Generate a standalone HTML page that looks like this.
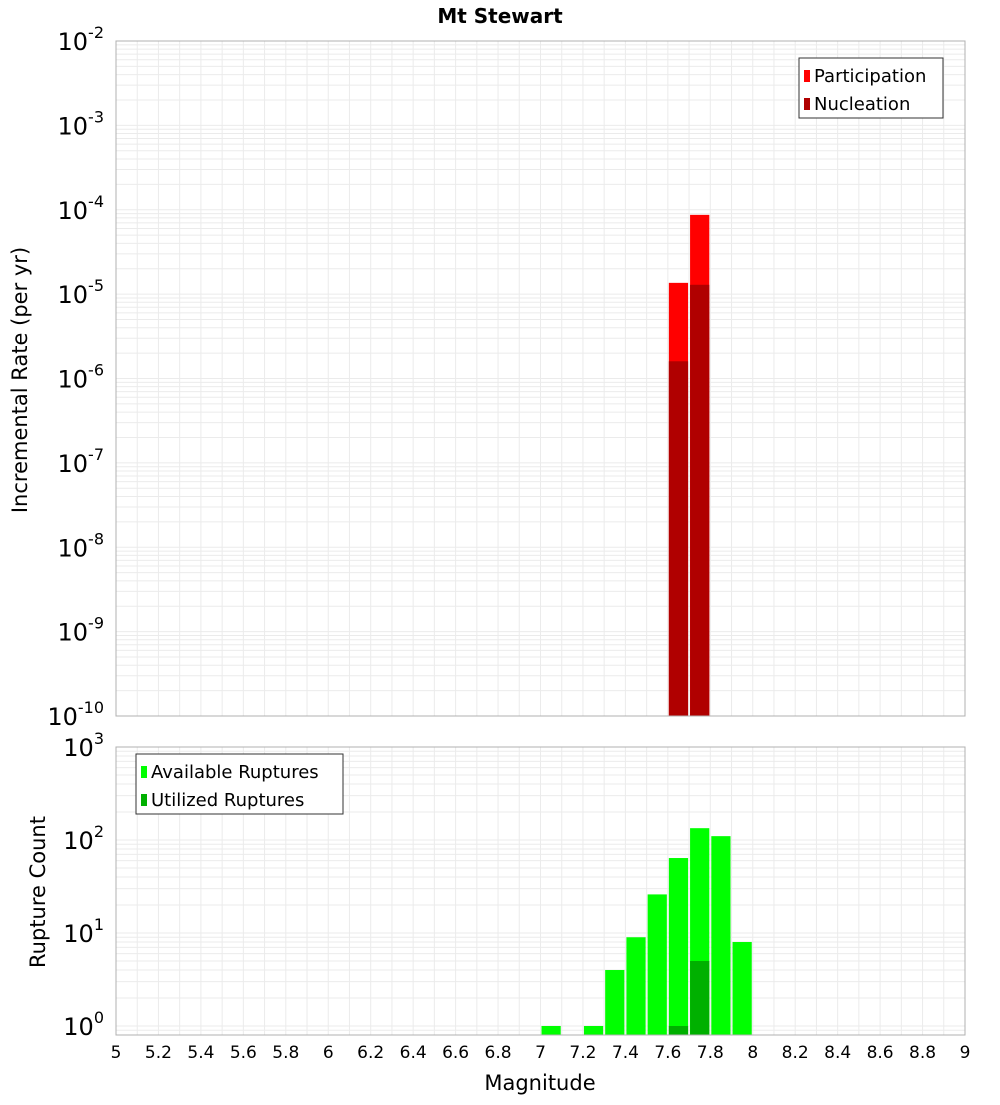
<!DOCTYPE html>
<html><head><meta charset="utf-8"><style>
body{margin:0;background:#fff;font-family:"Liberation Sans","DejaVu Sans",sans-serif}
svg text{font-family:"DejaVu Sans","Liberation Sans",sans-serif}
</style></head><body>
<svg id="c" width="1000" height="1100" xmlns="http://www.w3.org/2000/svg">
<text x="500" y="23" text-anchor="middle" font-size="20" font-weight="bold">Mt Stewart</text>
<text transform="translate(27,380) rotate(-90)" text-anchor="middle" font-size="21">Incremental Rate (per yr)</text>
<text transform="translate(45,892) rotate(-90)" text-anchor="middle" font-size="21">Rupture Count</text>
<text x="540" y="1090" text-anchor="middle" font-size="21">Magnitude</text>
<g id="topPlot"></g><g id="botPlot"></g><g id="xTickGroup"></g>
</svg>
<script>
const mags = [7.05,7.25,7.35,7.45,7.55,7.65,7.75,7.85,7.95];
const available = [1,1,4,9,26,64,134,110,8];
const utilizedMags = [7.65,7.75];
const utilized = [1,5];
const rateMags = [7.65,7.75];
const participation = [1.36e-5,8.7e-5];
const nucleation = [1.6e-6,1.29e-5];
const xTicks = [5,5.2,5.4,5.6,5.8,6,6.2,6.4,6.6,6.8,7,7.2,7.4,7.6,7.8,8,8.2,8.4,8.6,8.8,9];
const topExps = [-10,-9,-8,-7,-6,-5,-4,-3,-2];
const botExps = [0,1,2,3];

const NS="http://www.w3.org/2000/svg";
function mk(p,t,a){const e=document.createElementNS(NS,t);for(const k in a)e.setAttribute(k,a[k]);p.appendChild(e);return e;}
const X0=116,X1=965;
const xs=m=>X0+(m-5)/4*(X1-X0);
const T0=41,T1=716, yT=v=>T0+(-2-Math.log10(v))/8*(T1-T0);
const B0=747,B1=1035, BD=93, yB=v=>1026-Math.log10(v)*BD;
const gTop=document.getElementById('topPlot'), gBot=document.getElementById('botPlot'), gXt=document.getElementById('xTickGroup');

function grid(g,y0,y1,decY,dec){
  const gl=mk(g,'g',{});
  
  
  for(let m=5;m<=9.0001;m+=0.1){mk(gl,'line',{x1:xs(m),x2:xs(m),y1:y0,y2:y1,stroke:'#ebebeb','stroke-width':1});}
  for(const e of dec){for(let k=1;k<10;k++){const y=decY(k*Math.pow(10,e));if(y>=y0-0.5&&y<=y1+0.5)mk(gl,'line',{x1:X0,x2:X1,y1:y,y2:y,stroke:'#ebebeb','stroke-width':1});}}
}
grid(gTop,T0,T1,yT,[-10,-9,-8,-7,-6,-5,-4,-3,-2]);
grid(gBot,B0,B1,yB,[-1,0,1,2,3]);

function bar(g,m,v,base,yf,color,name){
  const r=mk(g,'rect',{x:xs(m-0.05)+1,width:xs(m+0.05)-xs(m-0.05)-2,y:yf(v),height:base-yf(v),fill:color});
  
  
}
rateMags.forEach((m,i)=>bar(gTop,m,participation[i],T1,yT,'#ff0000','participation-bar'));
rateMags.forEach((m,i)=>bar(gTop,m,nucleation[i],T1,yT,'#b00000','nucleation-bar'));
mags.forEach((m,i)=>bar(gBot,m,available[i],B1,yB,'#00ff00','available-bar'));
utilizedMags.forEach((m,i)=>bar(gBot,m,utilized[i],B1,yB,'#00b000','utilized-bar'));

mk(gTop,'rect',{x:X0,y:T0,width:X1-X0,height:T1-T0,fill:'none',stroke:'#b0b0b0'});
mk(gBot,'rect',{x:X0,y:B0,width:X1-X0,height:B1-B0,fill:'none',stroke:'#b0b0b0'});

function ylab(g,y,e,name){
  const t=mk(g,'text',{x:104,y:y+9,'text-anchor':'end','font-size':24});
  
  
  t.textContent='10';
  const s=mk(t,'tspan',{dy:-12,'font-size':16});s.textContent=String(e);
}
topExps.forEach(e=>ylab(gTop,yT(Math.pow(10,e)),e,'top-y-tick-label'));
botExps.forEach(e=>ylab(gBot,yB(Math.pow(10,e)),e,'bottom-y-tick-label'));
xTicks.forEach(m=>{
  const t=mk(gXt,'text',{x:xs(m),y:1058,'text-anchor':'middle','font-size':17});
  
  
  t.textContent=String(m);
});

function legend(g,x,y,w,items,name){
  const lg=mk(g,'g',{});
  
  
  mk(lg,'rect',{x:x,y:y,width:w,height:60,fill:'#fff',stroke:'#333'});
  items.forEach((it,i)=>{
    mk(lg,'rect',{x:x+5,y:y+12+i*28,width:6,height:12,fill:it[1]});
    const t=mk(lg,'text',{x:x+15,y:y+24+i*28,'font-size':18});t.textContent=it[0];
  });
}
legend(gTop,799,58,144,[['Participation','#ff0000'],['Nucleation','#b00000']],'top-legend');
legend(gBot,136,754,207,[['Available Ruptures','#00ff00'],['Utilized Ruptures','#00b000']],'bottom-legend');
</script>
</body></html>
